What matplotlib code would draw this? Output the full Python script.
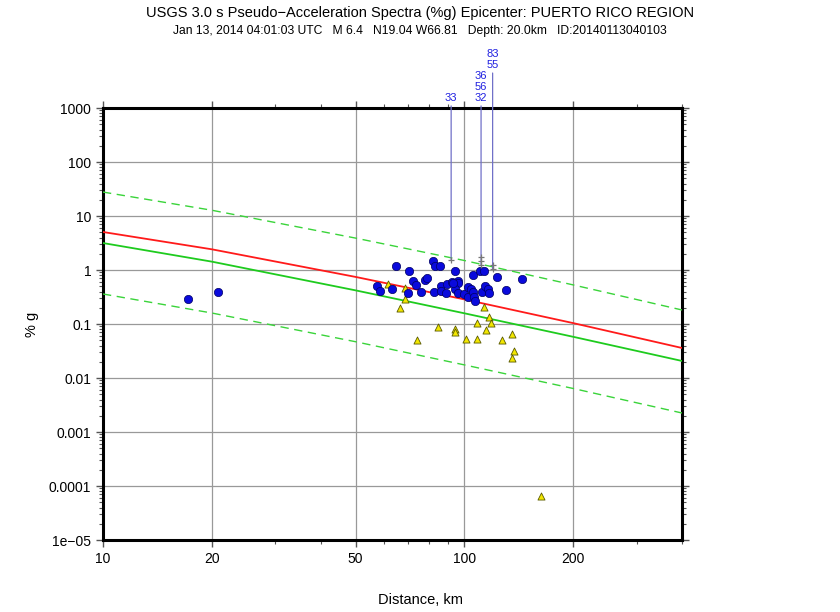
import numpy as np
import matplotlib
matplotlib.use('Agg')
import matplotlib.pyplot as plt
from matplotlib.ticker import FixedLocator, FixedFormatter, LogLocator, NullFormatter
from matplotlib.transforms import offset_copy

plt.rcParams['font.family'] = ['Liberation Sans', 'DejaVu Sans']

# regression curves (distance km, %g)
curve_dist = [10, 20, 50, 100, 200, 400]
median_raw = [5.06, 2.42, 0.745, 0.286, 0.104, 0.036]
median_bias = [3.16, 1.43, 0.42, 0.158, 0.058, 0.0207]
plus_sigma = [27.8, 12.8, 3.9, 1.5, 0.53, 0.182]
minus_sigma = [0.36, 0.16, 0.047, 0.0175, 0.0064, 0.00225]

# seismic stations
sta_dist = [17.2, 20.8, 64.8, 70.1, 82.1, 83.1, 85.4, 72.1, 73.3, 77.8,
            78.8, 57.4, 58.5, 63.2, 69.8, 76.0, 82.6, 86.2, 86.4, 89.3,
            89.2, 92.6, 94.0, 96.0, 95.8, 94.1, 95.8, 99.5, 102.1, 102.6,
            104.4, 105.4, 106.6, 106.9, 105.7, 110.3, 113.1, 112.2, 114.3, 116.0,
            117.1, 123.2, 130.2, 144.3, 92.7]
sta_pga = [0.294, 0.392, 1.186, 0.946, 1.47, 1.17, 1.17, 0.618, 0.535, 0.661,
           0.711, 0.506, 0.414, 0.445, 0.371, 0.386, 0.397, 0.506, 0.414, 0.557,
           0.380, 0.592, 0.946, 0.634, 0.567, 0.451, 0.380, 0.355, 0.478, 0.320,
           0.451, 0.397, 0.320, 0.272, 0.798, 0.971, 0.970, 0.400, 0.506, 0.451,
           0.383, 0.733, 0.427, 0.676, 0.567]

# intensity observations
dyfi_dist = [61.3, 68.3, 68.3, 66.5, 113.4, 116.9, 108.5, 118.8, 84.3, 94.0,
             94.4, 114.8, 74.1, 101.3, 108.2, 126.8, 135.6, 136.9, 135.8, 163.1]
dyfi_pga = [0.543, 0.458, 0.287, 0.200, 0.209, 0.1365, 0.1066, 0.103, 0.0891, 0.0826,
            0.0705, 0.0764, 0.0499, 0.0535, 0.0532, 0.0499, 0.0653, 0.0313, 0.0234, 6.5e-5]

# flagged stations
flag_dist = [91.9, 111.2, 111.2, 111.2, 119.7, 119.7]
flag_pga = [1.53, 1.72, 1.49, 1.24, 1.22, 1.06]
flag_id = ['33', '32', '56', '36', '55', '83']

xticks = [10, 20, 50, 100, 200]
xtick_labels = ['10', '20', '50', '100', '200']
yticks = [1e-5, 1e-4, 1e-3, 1e-2, 1e-1, 1, 10, 100, 1000]
ytick_labels = ['1e\u221205', '0.0001', '0.001', '0.01', '0.1', '1', '10', '100', '1000']

fig = plt.figure(figsize=(8.4, 6.12), dpi=100)
ax = fig.add_axes([0.1226, 0.1176, 0.6893, 0.7059])
ax.set_xscale('log')
ax.set_yscale('log')
ax.set_xlim(10, 400)
ax.set_ylim(1e-5, 1000)

ax.xaxis.set_major_locator(FixedLocator(xticks))
ax.xaxis.set_major_formatter(FixedFormatter(xtick_labels))
ax.xaxis.set_minor_locator(LogLocator(base=10, subs=np.arange(2, 10), numticks=20))
ax.xaxis.set_minor_formatter(NullFormatter())
ax.yaxis.set_major_locator(FixedLocator(yticks))
ax.yaxis.set_major_formatter(FixedFormatter(ytick_labels))
ax.yaxis.set_minor_locator(LogLocator(base=10, subs=np.arange(2, 10), numticks=20))
ax.yaxis.set_minor_formatter(NullFormatter())

ax.grid(True, which='major', color='#999999', linewidth=0.9)
ax.tick_params(which='both', direction='out', top=True, right=True, labelsize=10, color='#555555')
ax.tick_params(which='major', length=5, width=1)
ax.tick_params(which='minor', length=3, width=0.8)
ax.tick_params(top=True, labeltop=False, right=True, labelright=False)
for s in ax.spines.values():
    s.set_linewidth(2.2)
    s.set_color('black')

ax.plot(curve_dist, median_raw, color='#ff1a1a', lw=1.3, zorder=3)
ax.plot(curve_dist, median_bias, color='#1ecb1e', lw=1.3, zorder=3)
ax.plot(curve_dist, plus_sigma, color='#3ad43a', lw=1.0, ls=(0, (6, 4)), zorder=3)
ax.plot(curve_dist, minus_sigma, color='#3ad43a', lw=1.0, ls=(0, (6, 4)), zorder=3)

ax.scatter(dyfi_dist, dyfi_pga, marker='^', s=26, c='#f2e600', edgecolors='#5a5a00',
           linewidths=0.6, zorder=4)
ax.scatter(sta_dist, sta_pga, marker='o', s=36, c='#0a0adc', edgecolors='#000060',
           linewidths=0.5, zorder=5)

# flagged stations: '+' with a leader line up to the id label
ax.scatter(flag_dist, flag_pga, marker='+', s=22, c='#777777', linewidths=0.9, zorder=6)
row = 0
prev = None
for d in sorted(set(flag_dist)):
    ids = [i for i, fd in enumerate(flag_dist) if fd == d]
    # labels of neighbouring groups would collide, so keep stacking upwards
    if prev is not None and np.log10(d / prev) > 0.06:
        row = 0
    first = True
    for i in ids:
        tr = offset_copy(ax.get_xaxis_transform(), fig=fig, y=3.5 + 7.9 * row, units='points')
        if first:
            low = min(flag_pga[j] for j in ids)
            ax.annotate(flag_id[i], xy=(d, low), xycoords='data', xytext=(d, 1.0), textcoords=tr,
                        ha='center', va='bottom', fontsize=8, color='#2020e0',
                        annotation_clip=False,
                        arrowprops=dict(arrowstyle='-', color='#7070c8', lw=0.9,
                                        shrinkA=0, shrinkB=0, relpos=(0.5, 0.0)))
            first = False
        else:
            ax.text(d, 1.0, flag_id[i], transform=tr, ha='center', va='bottom',
                    fontsize=8, color='#2020e0')
        row += 1
    prev = d

fig.text(0.5, 0.978, 'USGS 3.0 s Pseudo\u2212Acceleration Spectra (%g) Epicenter: PUERTO RICO REGION',
         ha='center', va='center', fontsize=10.5)
fig.text(0.5, 0.949, 'Jan 13, 2014 04:01:03 UTC   M 6.4   N19.04 W66.81   Depth: 20.0km   ID:20140113040103',
         ha='center', va='center', fontsize=8.7)
fig.text(0.5, 0.02, 'Distance, km', ha='center', va='center', fontsize=10.5)
fig.text(0.038, 0.47, '% g', ha='center', va='center', rotation=90, fontsize=10.5)

fig.savefig('out.png', dpi=100, facecolor='white')
